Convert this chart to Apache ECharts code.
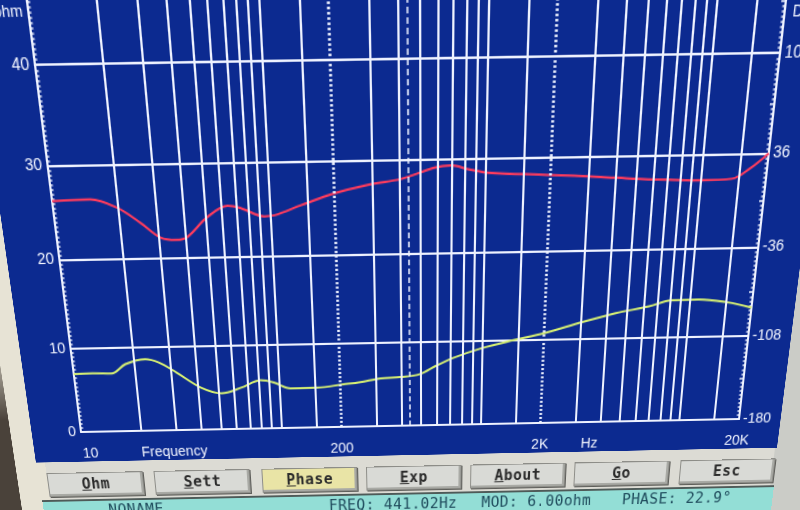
<!DOCTYPE html>
<html>
<head>
<meta charset="utf-8">
<script src="https://cdn.jsdelivr.net/npm/echarts@6/dist/echarts.min.js"></script>
<style>
  html, body { margin: 0; padding: 0; width: 800px; height: 510px; overflow: hidden; background: #0c2a90; }
  #stage { position: absolute; left: 0; top: 0; width: 840px; height: 600px; transform-origin: 0 0; background: #dcdbd4; }
  #bezelL { position: absolute; left: -40px; top: -150px; width: 80px; height: 800px; background: #e7e3d5; }
  #darkL { position: absolute; left: -40px; top: 330px; width: 50px; height: 300px; background: linear-gradient(to bottom, rgba(70,62,55,0), #4a423a 30%); }
  #bezelR { position: absolute; left: 778px; top: -150px; width: 80px; height: 800px; background: #cbccc7; }
  #panel { position: absolute; left: 31px; top: -150px; width: 749px; height: 613px; background: #0c2a90; }
  #chart { position: absolute; left: 0; top: 0; width: 800px; height: 510px; }
  .btn { position: absolute; top: 474px; width: 97px; height: 25px; box-sizing: border-box;
         background: #d9dad6; border: 1px solid #8d8d88; box-shadow: inset -2px -2px 0 #a9aaa5, 1px 1px 0 #5e5e5a;
         font: bold 15px "DejaVu Sans Mono", monospace; color: #2b2b2b; text-align: center; line-height: 23px; letter-spacing: 0.5px; }
  .btn.on { background: #e9e4a6; }
  #status { position: absolute; left: 32px; top: 502px; width: 750px; height: 60px; background: #93ded6;
            border-top: 2px solid #4e5a58; }
  .st { position: absolute; top: 1px; font: 15px "DejaVu Sans Mono", monospace; color: #1f4b5c; letter-spacing: 0.4px; white-space: nowrap; }
</style>
</head>
<body>
<div id="stage">
  <div id="bezelL"></div>
  <div id="darkL"></div>
  <div id="bezelR"></div>
  <div id="panel"></div>
  <div id="chart"></div>
  <div class="btn" style="left:40px"><u>O</u>hm</div>
  <div class="btn" style="left:148px"><u>S</u>ett</div>
  <div class="btn on" style="left:257px"><u>P</u>hase</div>
  <div class="btn" style="left:363px"><u>E</u>xp</div>
  <div class="btn" style="left:469px"><u>A</u>bout</div>
  <div class="btn" style="left:575px"><u>G</u>o</div>
  <div class="btn" style="left:683px">Esc</div>
  <div id="status">
    <span class="st" style="left:66px">NONAME</span>
    <span class="st" style="left:292px">FREQ: 441.02Hz</span>
    <span class="st" style="left:449px">MOD: 6.00ohm</span>
    <span class="st" style="left:594px">PHASE: 22.9°</span>
  </div>
</div>
<script>
// ---------------- data ----------------
const phaseFreq = [10, 15, 19.7, 25, 30.5, 36, 40.5, 51, 64, 74, 94, 105, 140, 200, 287, 410, 580, 696, 832, 1030, 1940, 3410, 4840, 7430, 9930, 13900, 16600, 20000];
const phaseDeg  = [9.4, 10.2, 3.6, -8.5, -20, -22, -20, -5, 3.6, 1.4, -5, -4.3, 3, 11.5, 17.6, 21.6, 29.5, 31, 28, 25, 22.7, 20.5, 18.7, 17.3, 16.6, 17.4, 24.7, 36];

const modFreq = [10, 12.4, 15.3, 18.1, 22.7, 26.3, 31.8, 41.3, 51.9, 65, 81.5, 94.6, 114, 154, 208, 252, 318, 398, 495, 597, 728, 984, 1420, 2000, 3040, 4400, 6350, 8100, 11000, 15200, 20000];
const modOhm  = [7.0, 7.06, 6.98, 8.06, 8.6, 8.18, 6.95, 5.1, 4.38, 5.0, 5.84, 5.54, 4.81, 4.83, 5.17, 5.4, 5.8, 5.91, 6.2, 7.17, 8.08, 9.1, 10.0, 10.75, 11.94, 12.9, 13.6, 14.26, 14.3, 13.9, 13.25];

const freqGrid   = [20, 30, 40, 50, 60, 70, 80, 90, 100, 150, 300, 400, 500, 600, 700, 800, 900, 1000, 1500, 3000, 4000, 5000, 6000, 7000, 8000, 9000, 10000, 15000];
const freqDotted = [200, 2000];
const xTickFreqs  = [10, 200, 2000, 20000];
const xTickLabels = ['10', '200', '2K', '20K'];
const cursorFreq = 441.02;
const rightTickLabels = [-180, -108, -36, 36, 108, 180];

// ---------------- chart ----------------
const WHITE = '#eef2ff';
const labelFont = { color: '#f2f5ff', fontFamily: 'Liberation Sans, Arial, sans-serif', fontSize: 14 };

const markData = [];
freqGrid.forEach(f => markData.push({ xAxis: f }));
xTickFreqs.forEach((f, i) => {
  const dotted = freqDotted.indexOf(f) >= 0;
  markData.push({
    xAxis: f,
    lineStyle: dotted ? { type: [2, 2], width: 2.5, color: WHITE } : { color: 'rgba(0,0,0,0)', width: 0 },
    label: Object.assign({ show: true, position: 'start', distance: 15, formatter: xTickLabels[i],
      padding: i === 0 ? [0, 0, 0, 14] : 0 }, labelFont)
  });
});
markData.push({ xAxis: cursorFreq, lineStyle: { type: [5, 3], width: 1.5, color: WHITE } });

const chart = echarts.init(document.getElementById('chart'), null, { renderer: 'canvas' });
chart.setOption({
  animation: false,
  backgroundColor: 'transparent',
  grid: { left: 80, right: 62, top: 27, bottom: 77 },
  xAxis: {
    type: 'log', logBase: 10, min: 10, max: 20000,
    axisLine: { show: true, onZero: false, lineStyle: { color: WHITE, width: 2 } },
    axisTick: { show: false }, axisLabel: { show: false },
    splitLine: { show: false }, minorTick: { show: false }, minorSplitLine: { show: false }
  },
  yAxis: [
    {
      type: 'value', min: 0, max: 50, interval: 10, position: 'left',
      axisLine: { show: true, onZero: false, lineStyle: { color: WHITE, width: 2 } },
      axisTick: { show: true, inside: true, length: 4, lineStyle: { color: WHITE, width: 1.5 } },
      minorTick: { show: true, splitNumber: 20, length: 2.5, lineStyle: { color: WHITE, width: 1.5 } },
      axisLabel: Object.assign({ margin: 5 }, labelFont),
      splitLine: { show: true, lineStyle: { color: WHITE, width: 2 } }
    },
    {
      type: 'value', min: -180, max: 180, interval: 36, position: 'right',
      axisLine: { show: true, onZero: false, lineStyle: { color: WHITE, width: 2 } },
      axisTick: { show: true, inside: true, length: 4, lineStyle: { color: WHITE, width: 1.5 } },
      minorTick: { show: true, splitNumber: 10, length: 2.5, lineStyle: { color: WHITE, width: 1.5 } },
      axisLabel: Object.assign({ margin: 4,
        formatter: v => rightTickLabels.indexOf(Math.round(v)) >= 0 ? String(Math.round(v)) : '' }, labelFont),
      splitLine: { show: false }
    }
  ],
  graphic: [
    { type: 'text', style: { text: 'Frequency', x: 138, y: 448, align: 'left', verticalAlign: 'top', fill: '#f2f5ff', font: '14px "Liberation Sans", Arial, sans-serif' } },
    { type: 'text', style: { text: 'Hz', x: 580, y: 448, align: 'left', verticalAlign: 'top', fill: '#f2f5ff', font: '14px "Liberation Sans", Arial, sans-serif' } },
    { type: 'text', style: { text: 'ohm', x: 75, y: 67, align: 'right', verticalAlign: 'middle', fill: '#f2f5ff', font: '13px "Liberation Sans", Arial, sans-serif' } },
    { type: 'text', style: { text: 'Deg', x: 745, y: 76, align: 'left', verticalAlign: 'middle', fill: '#f2f5ff', font: '13px "Liberation Sans", Arial, sans-serif' } }
  ],
  series: [
    {
      name: 'grid', type: 'line', yAxisIndex: 0, z: 1, silent: true, showSymbol: false,
      data: freqGrid.map(f => [f, 0]),
      lineStyle: { opacity: 0 },
      markLine: {
        silent: true, symbol: ['none', 'none'], animation: false,
        label: { show: false },
        lineStyle: { color: WHITE, width: 2, type: 'solid' },
        data: markData
      }
    },
    {
      name: 'Modulus', type: 'line', yAxisIndex: 0, z: 3, smooth: 0.35, showSymbol: false,
      data: modFreq.map((f, i) => [f, modOhm[i]]),
      lineStyle: { color: '#d6ef72', width: 2 }, itemStyle: { color: '#d6ef72' }
    },
    {
      name: 'Phase', type: 'line', yAxisIndex: 1, z: 3, smooth: 0.35, showSymbol: false,
      data: phaseFreq.map((f, i) => [f, phaseDeg[i]]),
      lineStyle: { color: '#ff3b5c', width: 2 }, itemStyle: { color: '#ff3b5c' }
    }
  ]
});

// ---------------- photo perspective (the reference is a photo of a screen) ----------------
function homography(src, dst) {
  const A = [], b = [];
  for (let i = 0; i < 4; i++) {
    const [x, y] = src[i], [X, Y] = dst[i];
    A.push([x, y, 1, 0, 0, 0, -x * X, -y * X]); b.push(X);
    A.push([0, 0, 0, x, y, 1, -x * Y, -y * Y]); b.push(Y);
  }
  const n = 8;
  for (let c = 0; c < n; c++) {
    let p = c;
    for (let r = c + 1; r < n; r++) if (Math.abs(A[r][c]) > Math.abs(A[p][c])) p = r;
    [A[c], A[p]] = [A[p], A[c]]; [b[c], b[p]] = [b[p], b[c]];
    for (let r = 0; r < n; r++) {
      if (r === c) continue;
      const f = A[r][c] / A[c][c];
      for (let k = c; k < n; k++) A[r][k] -= f * A[c][k];
      b[r] -= f * b[c];
    }
  }
  return b.map((v, i) => v / A[i][i]);
}
const plotL = 80, plotR = 738, plotB = 433, plot40 = 27 + 406 * 0.2;
const H = homography(
  [[plotL, plotB], [plotR, plotB], [plotL, plot40], [plotR, plot40]],
  [[81, 432], [739, 419], [35, 65], [780, 53]]
);
const [ha, hb, hc, hd, he, hf, hg, hh] = H;
document.getElementById('stage').style.transform =
  `matrix3d(${ha},${hd},0,${hg},${hb},${he},0,${hh},0,0,1,0,${hc},${hf},0,1)`;
</script>
</body>
</html>
